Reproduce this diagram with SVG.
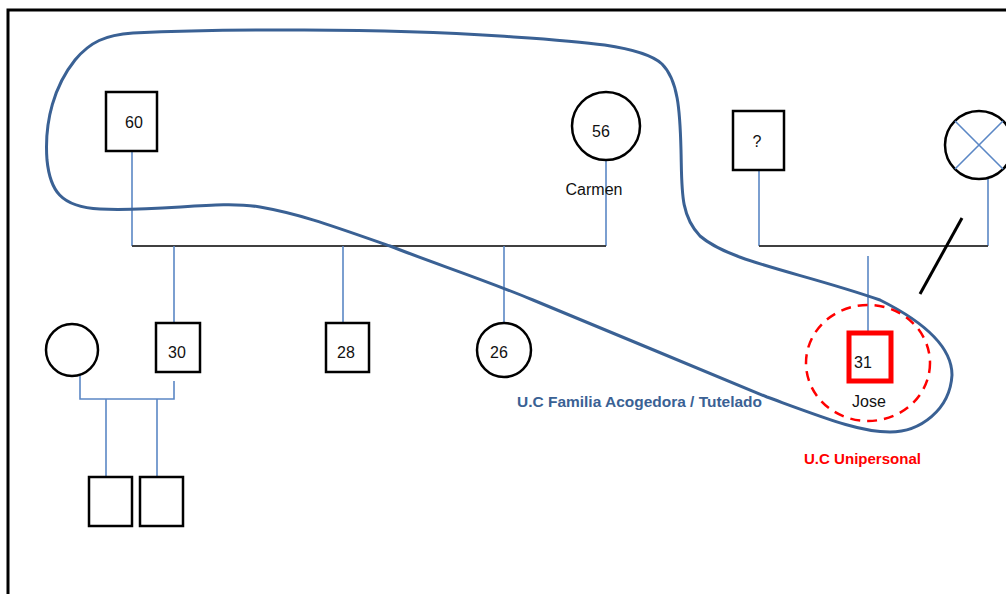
<svg xmlns="http://www.w3.org/2000/svg" width="1006" height="594" viewBox="0 0 1006 594">
  <style>
    .frame { fill: none; stroke: #000; stroke-width: 3; }
    .sq { fill: #fff; stroke: #000; stroke-width: 2.5; }
    .ci { fill: #fff; stroke: #000; stroke-width: 2.5; }
    .drop { fill: none; stroke: #5b87c5; stroke-width: 1.6; }
    .bar { fill: none; stroke: #404040; stroke-width: 2; }
    .lbl { font-family: "Liberation Sans", Arial, sans-serif; font-size: 16px; fill: #111; text-anchor: middle; }
    .grp { font-family: "Liberation Sans", Arial, sans-serif; font-size: 15px; font-weight: bold; }
  </style>
  <rect width="1006" height="594" fill="#fff"/>
  <!-- page border: top and left edges only -->
  <path class="frame" d="M8,594 V10 H1006"/>

  <!-- connectors -->
  <g id="connectors">
    <path class="drop" d="M132,151 V246"/>
    <path class="drop" d="M606,160 V246"/>
    <path class="bar" d="M132,246 H606"/>
    <path class="drop" d="M174,246 V323"/>
    <path class="drop" d="M343,246 V323"/>
    <path class="drop" d="M504,246 V323"/>
    <path class="drop" d="M759,170 V246"/>
    <path class="drop" d="M988,178 V246"/>
    <path class="bar" d="M759,246 H988"/>
    <path class="drop" d="M868,256 V333"/>
    <path d="M962,218 L920,294" stroke="#000" stroke-width="3" fill="none"/>
    <path class="drop" d="M80,372 V399 H174 V381"/>
    <path class="drop" d="M106,399 V477"/>
    <path class="drop" d="M157,399 V477"/>
  </g>

  <!-- persons -->
  <g id="p60">
    <rect class="sq" x="106" y="92" width="51" height="59"/>
    <text class="lbl" x="134" y="128">60</text>
  </g>
  <g id="p56">
    <circle class="ci" cx="606" cy="126" r="34"/>
    <text class="lbl" x="601" y="137">56</text>
    <text class="lbl" x="594" y="195">Carmen</text>
  </g>
  <g id="punknown">
    <rect class="sq" x="733" y="111" width="51" height="59"/>
    <text class="lbl" x="757" y="147">?</text>
  </g>
  <g id="pdeceased">
    <circle class="ci" cx="979" cy="145" r="34"/>
    <path d="M955,121 L1003,169 M955,169 L1003,121" stroke="#5b87c5" stroke-width="1.6" fill="none"/>
  </g>
  <g id="pwife">
    <circle class="ci" cx="72" cy="350" r="26"/>
  </g>
  <g id="p30">
    <rect class="sq" x="156" y="323" width="44" height="49"/>
    <text class="lbl" x="177" y="358">30</text>
  </g>
  <g id="p28">
    <rect class="sq" x="326" y="323" width="43" height="49"/>
    <text class="lbl" x="346" y="358">28</text>
  </g>
  <g id="p26">
    <circle class="ci" cx="504" cy="350" r="27"/>
    <text class="lbl" x="499" y="358">26</text>
  </g>
  <g id="pchild1">
    <rect class="sq" x="89" y="477" width="43" height="49"/>
  </g>
  <g id="pchild2">
    <rect class="sq" x="140" y="477" width="43" height="49"/>
  </g>
  <g id="p31">
    <rect x="849" y="333" width="42" height="48" fill="#fff" stroke="#ff0000" stroke-width="5"/>
    <text class="lbl" x="863" y="368">31</text>
    <text class="lbl" x="869" y="407">Jose</text>
  </g>

  <!-- household groupings -->
  <g id="uc-familia">
    <path d="M133,33 C220,29 380,28 500,36 C570,40.7 640,44 662,64 C678,80 680,110 681,150 C682,190 680,215 700,236 C730,262 800,272 880,300 C920,320 952,345 952,375 C950,410 920,432 890,432 C860,432 830,420 767,397 C690,365 610,332 533,300 C480,278 430,262 390,246 C330,225 300,214 260,207 C220,200 160,212 100,209 C60,207 50,190 47,160 C44,120 55,85 75,60 C90,42 105,35 133,33 Z" fill="none" stroke="#3a6194" stroke-width="3"/>
    <text class="grp" x="517" y="407" fill="#3a6194" textLength="245" lengthAdjust="spacingAndGlyphs">U.C Familia  Acogedora / Tutelado</text>
  </g>
  <g id="uc-unipersonal">
    <ellipse cx="868" cy="363" rx="62" ry="58" fill="none" stroke="#ff0000" stroke-width="2.5" stroke-dasharray="10,7"/>
    <text class="grp" x="804" y="464" fill="#ff0000" textLength="117" lengthAdjust="spacingAndGlyphs">U.C Unipersonal</text>
  </g>
</svg>
